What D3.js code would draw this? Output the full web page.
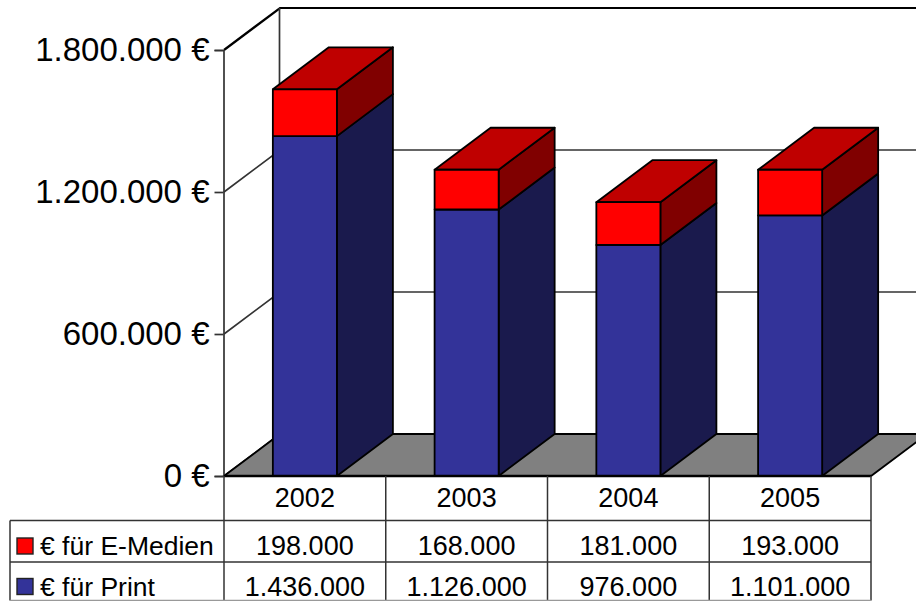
<!DOCTYPE html>
<html>
<head>
<meta charset="utf-8">
<script src="https://cdn.jsdelivr.net/npm/d3@7"></script>
<style>
  html, body { margin: 0; padding: 0; background: #fff; overflow: hidden; }
  svg { display: block; }
  text { font-family: "Liberation Sans", Arial, sans-serif; fill: #000; }
</style>
</head>
<body>
<div id="chart"></div>
<script>
var years = ["2002", "2003", "2004", "2005"];
var print = [1436000, 1126000, 976000, 1101000];
var emedien = [198000, 168000, 181000, 193000];
var axisTicks = [0, 600000, 1200000, 1800000];
var seriesNames = ["€ für E-Medien", "€ für Print"];

var width = 916, height = 601;
// depth of the fake 3d box
var dx = 56, dy = -42;

var svg = d3.select("#chart").append("svg")
  .attr("width", width)
  .attr("height", height);

var x = d3.scaleBand().domain(years).range([224, 871]).paddingInner(0.604).paddingOuter(0.302);
var y = d3.scaleLinear().domain([0, 1800000]).range([476, 50]);

var german = d3.formatLocale({ decimal: ",", thousands: ".", grouping: [3], currency: ["", " €"] });
var fmt = german.format(",");

var rows = years.map(function (d, i) {
  return { year: d, print: print[i], emedien: emedien[i] };
});
var stacked = d3.stack().keys(["print", "emedien"])(rows);

var x0 = x.range()[0], x1 = x.range()[1];
var line = d3.line();

// back walls and gridlines
axisTicks.forEach(function (t) {
  var top = t === 1800000;
  svg.append("path")
    .attr("d", line([[x0, y(t)], [x0 + dx, y(t) + dy], [x1 + dx, y(t) + dy]]))
    .attr("fill", "none")
    .attr("stroke", top ? "#000" : "#333")
    .attr("stroke-width", top ? 2.2 : 1.7);
});
svg.append("line")
  .attr("x1", x0 + dx - 0.5).attr("x2", x0 + dx - 0.5)
  .attr("y1", y(1800000) + dy).attr("y2", y(0) + dy)
  .attr("stroke", "#333").attr("stroke-width", 1.7);

// floor
svg.append("path")
  .attr("d", line([[x0, y(0)], [x0 + dx, y(0) + dy], [x1 + dx, y(0) + dy], [x1, y(0)]]) + "Z")
  .attr("fill", "#808080")
  .attr("stroke", "#000")
  .attr("stroke-width", 1.8);

// left axis
var axis = d3.axisLeft(y)
  .tickValues(axisTicks)
  .tickSize(9)
  .tickPadding(5)
  .tickFormat(function (d) { return fmt(d) + " €"; });
var gAxis = svg.append("g").attr("transform", "translate(" + (x0 - 0.5) + ",0)").call(axis);
gAxis.select(".domain").attr("stroke", "#333").attr("stroke-width", 1.7);
gAxis.selectAll(".tick line").attr("stroke", "#333").attr("stroke-width", 1.7);
gAxis.selectAll(".tick text")
  .style("font-family", '"Liberation Sans", Arial, sans-serif')
  .style("font-size", "33px")
  .attr("fill", "#000");

// bars, one stacked box per year
var colors = {
  print: { front: "#333399", side: "#1a1a4d", top: "#262673" },
  emedien: { front: "#ff0000", side: "#800000", top: "#bf0000" }
};

function box(g, left, w, lo, hi, c, drawTop) {
  var right = left + w;
  g.append("path")
    .attr("d", line([[right, hi], [right + dx, hi + dy], [right + dx, lo + dy], [right, lo]]) + "Z")
    .attr("fill", c.side);
  if (drawTop) {
    g.append("path")
      .attr("d", line([[left, hi], [left + dx, hi + dy], [right + dx, hi + dy], [right, hi]]) + "Z")
      .attr("fill", c.top);
  }
  g.append("rect")
    .attr("x", left).attr("y", hi)
    .attr("width", w).attr("height", lo - hi)
    .attr("fill", c.front);
}

var bars = svg.append("g")
  .attr("stroke", "#000")
  .attr("stroke-width", 1.8)
  .attr("stroke-linejoin", "round");

years.forEach(function (yr, i) {
  var g = bars.append("g");
  stacked.forEach(function (s) {
    box(g, x(yr), x.bandwidth(), y(s[i][0]), y(s[i][1]), colors[s.key], s.key === "emedien");
  });
});

// front edge of floor goes over the bar bottoms
svg.append("line")
  .attr("x1", x0).attr("x2", x1).attr("y1", y(0)).attr("y2", y(0))
  .attr("stroke", "#000").attr("stroke-width", 2.4);

// data table
var rowY = [476, 520.5, 562, 600.5];
var tableLeft = 10;
var grid = svg.append("g").attr("stroke", "#333").attr("stroke-width", 1.5);

d3.range(years.length + 1).forEach(function (i) {
  var vx = x0 + i * x.step();
  grid.append("line").attr("x1", vx).attr("x2", vx).attr("y1", rowY[0]).attr("y2", rowY[3]);
});
grid.append("line").attr("x1", tableLeft).attr("x2", tableLeft).attr("y1", rowY[1]).attr("y2", rowY[3]);
[rowY[1], rowY[2]].forEach(function (ry) {
  grid.append("line").attr("x1", tableLeft).attr("x2", x1).attr("y1", ry).attr("y2", ry);
});
// bottom border is cut by the picture edge, only a grey rest shows
grid.append("line").attr("x1", tableLeft).attr("x2", x1).attr("y1", rowY[3]).attr("y2", rowY[3])
  .attr("stroke", "#999");

var tableSize = "27px";
function cell(cx, baseline, label) {
  svg.append("text")
    .attr("x", cx).attr("y", baseline)
    .attr("text-anchor", "middle")
    .style("font-size", tableSize)
    .text(label);
}

var center = function (d) { return x(d) + x.bandwidth() / 2; };
years.forEach(function (yr, i) {
  cell(center(yr), 507, yr);
  cell(center(yr), 555, fmt(emedien[i]));
  cell(center(yr), 596, fmt(print[i]));
});

// series names with colour keys
[[colors.emedien.front, 555, 546], [colors.print.front, 596, 586.5]].forEach(function (k, i) {
  svg.append("rect")
    .attr("x", 17).attr("y", k[2] - 8)
    .attr("width", 16).attr("height", 16)
    .attr("fill", k[0])
    .attr("stroke", "#222")
    .attr("stroke-width", 1.4);
  svg.append("text")
    .attr("x", 40).attr("y", k[1])
    .style("font-size", "26.5px")
    .text(seriesNames[i]);
});
</script>
</body>
</html>
